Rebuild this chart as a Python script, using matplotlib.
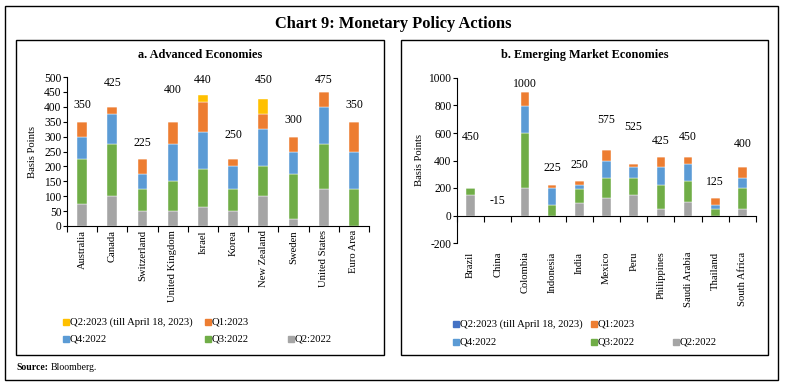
import numpy as np
import matplotlib.pyplot as plt
from matplotlib.patches import Rectangle

plt.rcParams['font.family'] = ['Liberation Serif', 'DejaVu Serif']
plt.rcParams['axes.unicode_minus'] = False

W, H = 786, 386

# data: basis points by quarter
ae_countries = ['Australia', 'Canada', 'Switzerland', 'United Kingdom', 'Israel',
                'Korea', 'New Zealand', 'Sweden', 'United States', 'Euro Area']
ae_q2_22 = [75, 100, 50, 50, 65, 50, 100, 25, 125, 0]
ae_q3_22 = [150, 175, 75, 100, 125, 75, 100, 150, 150, 125]
ae_q4_22 = [75, 100, 50, 125, 125, 75, 125, 75, 125, 125]
ae_q1_23 = [50, 25, 50, 75, 100, 25, 50, 50, 50, 100]
ae_q2_23 = [0, 0, 0, 0, 25, 0, 50, 0, 0, 0]
ae_totals = [350, 425, 225, 400, 440, 250, 450, 300, 475, 350]

em_countries = ['Brazil', 'China', 'Colombia', 'Indonesia', 'India', 'Mexico',
                'Peru', 'Philippines', 'Saudi Arabia', 'Thailand', 'South Africa']
em_q2_22 = [150, 0, 200, 0, 90, 125, 150, 50, 100, 0, 50]
em_q3_22 = [50, 0, 400, 75, 100, 150, 125, 175, 150, 50, 150]
em_q4_22 = [0, 0, 200, 125, 35, 125, 75, 125, 125, 25, 75]
em_q1_23 = [0, 0, 100, 25, 25, 75, 25, 75, 50, 50, 75]
em_q2_23 = [0, 0, 0, 0, 0, 0, 0, 0, 0, 0, 0]
em_totals = [450, -15, 1000, 225, 250, 575, 525, 425, 450, 125, 400]

GRAY, GREEN, BLUE, ORANGE = '#A5A5A5', '#70AD47', '#5B9BD5', '#ED7D31'
YELLOW, DBLUE = '#FFC000', '#4472C4'


def fx(px):
    return px / W


def fy(py):
    return 1 - py / H


fig = plt.figure(figsize=(W / 100, H / 100), dpi=100)

# outer frame and panel boxes
fig.patches.append(Rectangle((fx(5), fy(380)), fx(773), 374 / H, transform=fig.transFigure,
                             fill=False, edgecolor='black', linewidth=1.0))
for x0, x1 in [(16, 384), (401, 768)]:
    fig.patches.append(Rectangle((fx(x0), fy(355)), fx(x1 - x0), 315 / H,
                                 transform=fig.transFigure, fill=False,
                                 edgecolor='black', linewidth=1.0))

fig.text(fx(393), fy(24), 'Chart 9: Monetary Policy Actions', ha='center', va='center',
         fontsize=11.8, fontweight='bold')
fig.text(fx(200), fy(55), 'a. Advanced Economies', ha='center', va='center',
         fontsize=8.8, fontweight='bold')
fig.text(fx(585), fy(55), 'b. Emerging Market Economies', ha='center', va='center',
         fontsize=8.8, fontweight='bold')
fig.text(fx(16), fy(368), 'Source:', ha='left', va='center', fontsize=7, fontweight='bold')
fig.text(fx(51), fy(368), 'Bloomberg.', ha='left', va='center', fontsize=7)


def draw_stack(ax, names, series, colors, zero_axis=False):
    x = np.arange(len(names))
    bottom = np.zeros(len(names))
    for vals, c in zip(series, colors):
        ax.bar(x, vals, 0.32, bottom=bottom, color=c, edgecolor='white', linewidth=0.3, zorder=2)
        bottom += np.array(vals)
    if zero_axis:
        ax.spines['bottom'].set_position(('data', 0))
    ax.set_xlim(-0.5, len(names) - 0.5)
    ax.set_xticks(x)
    ax.set_xticklabels(names, rotation=90, fontsize=7.7)
    ax.set_xticks(np.arange(len(names) + 1) - 0.5, minor=True)
    ax.tick_params(axis='x', which='major', length=0)
    ax.tick_params(axis='x', which='minor', length=4, width=0.8)
    ax.tick_params(axis='y', labelsize=8.3, length=3, width=0.8, pad=1)
    for s in ['top', 'right']:
        ax.spines[s].set_visible(False)
    ax.set_ylabel('Basis Points', fontsize=7.7, labelpad=3)
    return x


def legend_items(items, rows_y):
    for (xp, row, label, color) in items:
        yp = rows_y[row]
        fig.patches.append(Rectangle((fx(xp), fy(yp + 3)), fx(6), 6 / H,
                                     transform=fig.transFigure, color=color))
        fig.text(fx(xp + 7), fy(yp), label, ha='left', va='center', fontsize=7.7)


# panel a
ax1 = fig.add_axes([fx(67), fy(226), fx(302), 149 / H])
x1 = draw_stack(ax1, ae_countries, [ae_q2_22, ae_q3_22, ae_q4_22, ae_q1_23, ae_q2_23],
                [GRAY, GREEN, BLUE, ORANGE, YELLOW])
ax1.set_ylim(0, 500)
ax1.set_yticks(range(0, 501, 50))
ax1.tick_params(axis='x', which='major', pad=3)
for xi, t in zip(x1, ae_totals):
    ax1.text(xi, min(t + 55, 490), str(t), ha='center', va='center', fontsize=8.5)
ax1.yaxis.set_label_coords(-0.1, 0.5)

legend_items([(63, 0, 'Q2:2023 (till April 18, 2023)', YELLOW),
              (205, 0, 'Q1:2023', ORANGE),
              (63, 1, 'Q4:2022', BLUE),
              (205, 1, 'Q3:2022', GREEN),
              (288, 1, 'Q2:2022', GRAY)], [322, 339])

# panel b
ax2 = fig.add_axes([fx(457), fy(243), fx(299), 165 / H])
x2 = draw_stack(ax2, em_countries, [em_q2_22, em_q3_22, em_q4_22, em_q1_23, em_q2_23],
                [GRAY, GREEN, BLUE, ORANGE, DBLUE], zero_axis=True)
ax2.set_ylim(-200, 1000)
ax2.set_yticks(range(-200, 1001, 200))
ax2.tick_params(axis='x', which='major', pad=26)
for xi, t in zip(x2, em_totals):
    ax2.text(xi, min(t + 120, 958), str(t), ha='center', va='center', fontsize=8.5)
ax2.yaxis.set_label_coords(-0.11, 0.5)

legend_items([(453, 0, 'Q2:2023 (till April 18, 2023)', DBLUE),
              (591, 0, 'Q1:2023', ORANGE),
              (453, 1, 'Q4:2022', BLUE),
              (591, 1, 'Q3:2022', GREEN),
              (673, 1, 'Q2:2022', GRAY)], [324, 342])

fig.savefig('out.png', dpi=100)
